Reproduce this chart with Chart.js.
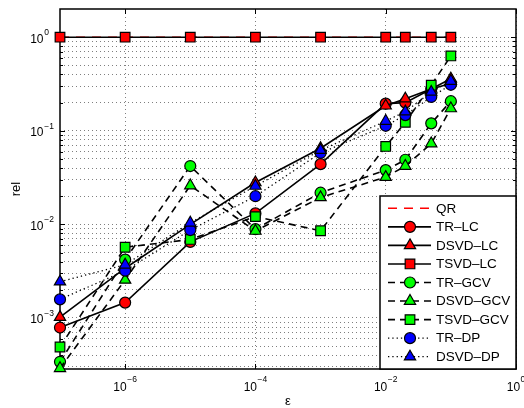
<!DOCTYPE html>
<html><head><meta charset="utf-8">
<script src="https://cdn.jsdelivr.net/npm/chart.js@4/dist/chart.umd.min.js"></script>
<style>html,body{margin:0;padding:0;background:#fff;}canvas{display:block;}</style>
</head><body>
<canvas id="c" width="524" height="408"></canvas>
<script>
// ---- data ----
const epsValues = [1e-7, 1e-6, 1e-5, 1e-4, 1e-3, 1e-2, 2e-2, 5e-2, 1e-1];
const seriesNames = ['QR', 'TR–LC', 'DSVD–LC', 'TSVD–LC', 'TR–GCV', 'DSVD–GCV', 'TSVD–GCV', 'TR–DP', 'DSVD–DP'];
const qr      = [1, 1, 1, 1, 1, 1, 1, 1, 1];
const trLC    = [7.9e-4, 1.46e-3, 6.5e-3, 1.31e-2, 4.4e-2, 0.195, 0.20, 0.28, 0.32];
const dsvdLC  = [1.02e-3, 3.4e-3, 1.0e-2, 2.8e-2, 6.5e-2, 0.185, 0.22, 0.28, 0.36];
const tsvdLC  = [1, 1, 1, 1, 1, 1, 1, 1, 1];
const trGCV   = [3.4e-4, 4.2e-3, 4.2e-2, 8.9e-3, 2.18e-2, 0.038, 0.049, 0.12, 0.207];
const dsvdGCV = [2.9e-4, 2.55e-3, 2.6e-2, 8.5e-3, 1.94e-2, 0.032, 0.042, 0.073, 0.173];
const tsvdGCV = [4.9e-4, 5.7e-3, 6.9e-3, 1.21e-2, 8.55e-3, 0.068, 0.123, 0.307, 0.63];
const trDP    = [1.58e-3, 3.2e-3, 8.7e-3, 2.0e-2, 5.8e-2, 0.113, 0.147, 0.23, 0.31];
const dsvdDP  = [2.44e-3, 3.7e-3, 1.04e-2, 2.57e-2, 6.2e-2, 0.127, 0.16, 0.26, 0.34];
const seriesValues = [qr, trLC, dsvdLC, tsvdLC, trGCV, dsvdGCV, tsvdGCV, trDP, dsvdDP];

const xTickValues = [1e-6, 1e-4, 1e-2, 1];
const yTickValues = [1e-3, 1e-2, 1e-1, 1];
const xLabel = 'ε';
const yLabel = 'rel';
const xMin = 1e-7, xMax = 1, yMin = 2.85e-4, yMax = 2;

// ---- styles ----
const fills   = ['#ff0000','#ff0000','#ff0000','#ff0000','#00ff00','#00ff00','#00ff00','#0000ff','#0000ff'];
const shapes  = [false,'circle','triangle','rect','circle','triangle','rect','circle','triangle'];
const radii   = [0, 5.5, 6.5, 6.8, 5.5, 6.5, 6.8, 5.5, 6.5];
const kinds   = ['qr','solid','solid','solid','dash','dash','dash','dot','dot'];
const dashes  = {qr:[9,7], solid:[], dash:[7,5], dot:[1.3,3]};
const widths  = {qr:1.6, solid:1.6, dash:1.6, dot:1.3};

const N = seriesNames.length;
const datasets = seriesNames.map((name, i) => ({
  label: name,
  data: epsValues.map((x, j) => ({x: x, y: seriesValues[i][j]})),
  borderColor: kinds[i] === 'qr' ? '#ff0000' : '#000000',
  borderWidth: widths[kinds[i]],
  borderDash: dashes[kinds[i]],
  pointStyle: shapes[i],
  pointRadius: radii[i],
  pointHoverRadius: radii[i],
  pointBackgroundColor: fills[i],
  pointBorderColor: '#000000',
  pointBorderWidth: 1.2,
  fill: false,
  tension: 0,
  clip: false,
  order: N - 1 - i
}));

function yGridValues() {
  const out = [];
  for (let e = -4; e <= 0; e++) for (let m = 1; m <= 9; m++) {
    const v = m * Math.pow(10, e);
    if (v > yMin && v < yMax) out.push(v);
  }
  return out;
}

const FONT = '"Liberation Sans", Arial, Helvetica, sans-serif';

function expText(v) {
  const e = Math.round(Math.log10(v));
  return e === 0 ? '0' : '\u2212' + Math.abs(e);
}

const decor = {
  id: 'decor',
  beforeDatasetsDraw(chart) {
    const {ctx, chartArea: a, scales: {x, y}} = chart;
    ctx.save();
    ctx.strokeStyle = '#000';
    ctx.lineWidth = 1;
    ctx.setLineDash([]);
    ctx.beginPath();
    yGridValues().forEach(v => {
      const p = Math.round(y.getPixelForValue(v)) + 0.5;
      const major = yTickValues.includes(v);
      const L = major ? 5 : 3;
      ctx.moveTo(a.left, p); ctx.lineTo(a.left + L, p);
      ctx.moveTo(a.right, p); ctx.lineTo(a.right - L, p);
    });
    xTickValues.forEach(v => {
      const p = Math.round(x.getPixelForValue(v)) + 0.5;
      ctx.moveTo(p, a.bottom); ctx.lineTo(p, a.bottom - 5);
      ctx.moveTo(p, a.top); ctx.lineTo(p, a.top + 5);
    });
    ctx.stroke();
    ctx.lineWidth = 1.5;
    ctx.strokeRect(a.left, a.top, a.right - a.left, a.bottom - a.top);
    ctx.restore();
  },
  afterDraw(chart) {
    const {ctx, chartArea: a, scales: {x, y}} = chart;
    ctx.save();
    ctx.fillStyle = '#000';
    ctx.textBaseline = 'alphabetic';
    xTickValues.forEach(v => {
      const px = x.getPixelForValue(v);
      ctx.font = '12px ' + FONT;
      const wb = ctx.measureText('10').width;
      ctx.font = '8.5px ' + FONT;
      const et = expText(v);
      const we = ctx.measureText(et).width;
      const start = px - (wb + we + 0.5) / 2;
      ctx.font = '12px ' + FONT;
      ctx.textAlign = 'left';
      ctx.fillText('10', start, a.bottom + 21.5);
      ctx.font = '8.5px ' + FONT;
      ctx.fillText(et, start + wb + 0.5, a.bottom + 12.5);
    });
    yTickValues.forEach(v => {
      const py = y.getPixelForValue(v);
      ctx.font = '12px ' + FONT;
      ctx.textAlign = 'right';
      ctx.fillText('10', a.left - 16.5, py + 5.5);
      ctx.font = '8.5px ' + FONT;
      ctx.textAlign = 'left';
      ctx.fillText(expText(v), a.left - 15.7, py - 2);
    });
    ctx.font = '13px ' + FONT;
    ctx.textAlign = 'center';
    ctx.textBaseline = 'middle';
    ctx.fillText(xLabel, (a.left + a.right) / 2, a.bottom + 32);
    ctx.save();
    ctx.translate(16, (a.top + a.bottom) / 2);
    ctx.rotate(-Math.PI / 2);
    ctx.fillText(yLabel, 0, 0);
    ctx.restore();

    // legend
    const W = 136, H = 173;
    const L = a.right - W, T = a.bottom - H;
    ctx.fillStyle = '#fff';
    ctx.fillRect(L, T, W, H);
    ctx.strokeStyle = '#000';
    ctx.lineWidth = 1.5;
    ctx.setLineDash([]);
    ctx.strokeRect(L, T, W, H);
    const step = 18.55;
    chart.data.datasets.forEach((d, i) => {
      const ry = T + 12.3 + i * step;
      const x0 = L + 8, x1 = L + 51, xm = L + 30;
      ctx.save();
      ctx.strokeStyle = d.borderColor;
      ctx.lineWidth = d.borderWidth;
      ctx.setLineDash(d.borderDash);
      ctx.beginPath();
      ctx.moveTo(x0, ry); ctx.lineTo(x1, ry);
      ctx.stroke();
      ctx.setLineDash([]);
      if (d.pointStyle) {
        ctx.fillStyle = d.pointBackgroundColor;
        ctx.strokeStyle = d.pointBorderColor;
        ctx.lineWidth = d.pointBorderWidth;
        Chart.helpers.drawPoint(ctx, {pointStyle: d.pointStyle, radius: d.pointRadius, rotation: 0, borderWidth: d.pointBorderWidth}, xm, ry);
      }
      ctx.restore();
      ctx.fillStyle = '#000';
      ctx.font = '13.5px ' + FONT;
      ctx.textAlign = 'left';
      ctx.textBaseline = 'middle';
      ctx.fillText(d.label, L + 56, ry + 0.5);
    });
    ctx.restore();
  }
};

new Chart(document.getElementById('c'), {
  type: 'line',
  data: {datasets: datasets},
  options: {
    responsive: false,
    animation: false,
    devicePixelRatio: 1,
    layout: {padding: {left: 60, top: 9, right: 6.3, bottom: 39}},
    plugins: {legend: {display: false}, tooltip: {enabled: false}},
    scales: {
      x: {
        type: 'logarithmic', min: xMin, max: xMax,
        ticks: {display: false},
        grid: {color: 'rgba(0,0,0,0.5)', lineWidth: 1, drawTicks: false},
        border: {display: false, dash: [1, 3]},
        afterBuildTicks: s => { s.ticks = xTickValues.map(v => ({value: v})); }
      },
      y: {
        type: 'logarithmic', min: yMin, max: yMax,
        ticks: {display: false},
        grid: {color: 'rgba(0,0,0,0.5)', lineWidth: 1, drawTicks: false},
        border: {display: false, dash: [1, 3]},
        afterBuildTicks: s => { s.ticks = yGridValues().map(v => ({value: v})); }
      }
    }
  },
  plugins: [decor]
});
</script>
</body></html>
